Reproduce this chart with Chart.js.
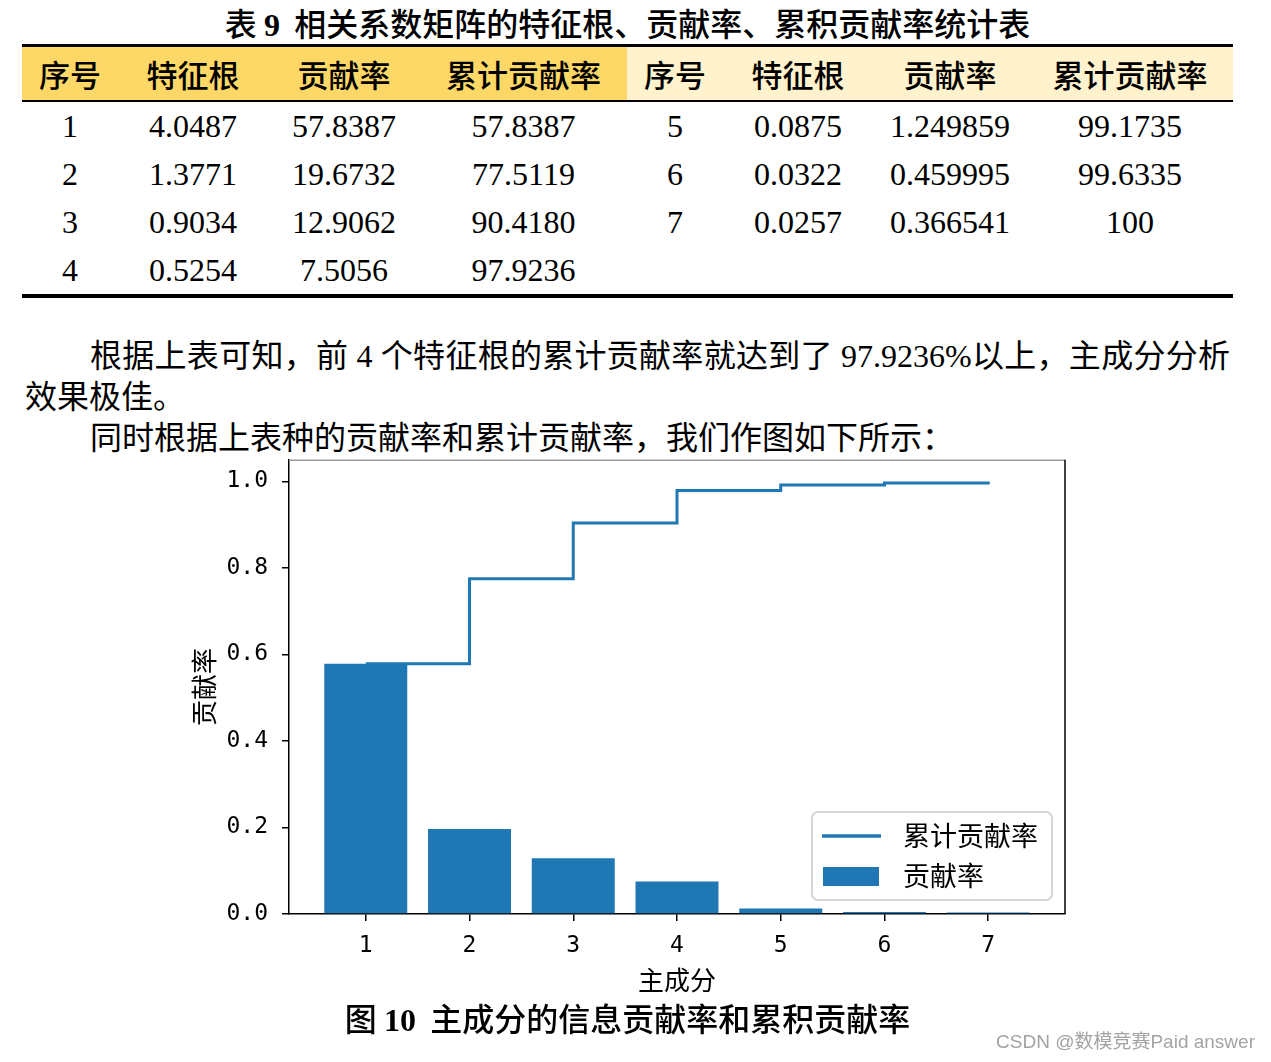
<!DOCTYPE html>
<html>
<head>
<meta charset="utf-8">
<script src="https://cdn.jsdelivr.net/npm/chart.js@4.4.0/dist/chart.umd.min.js"></script>
<style>
html,body{margin:0;padding:0;background:#fff;}
body{width:1271px;height:1062px;position:relative;overflow:hidden;color:#000;font-family:"Liberation Serif","Noto Sans CJK SC",serif;}
.abs{position:absolute;}
#title{left:22px;width:1211px;top:3px;height:38px;line-height:38px;text-align:center;font-size:32px;font-family:"Noto Sans CJK SC",sans-serif;font-weight:500;white-space:pre;}
#title b,#caption b{font-family:"Liberation Serif",serif;font-weight:bold;}
#tbl{left:22px;top:44px;width:1211px;border-top:3px solid #000;border-bottom:4px solid #000;}
.grid{display:grid;grid-template-columns:96px 150px 152px 207px 96px 150px 154px 206px;}
.hdr{height:53px;line-height:53px;border-bottom:2px solid #000;font-family:"Noto Sans CJK SC",sans-serif;font-weight:500;font-size:31px;}
.hdr div{text-align:center;}
.hl{background:#FDD866;}
.hr{background:#FFF2CC;}
.row{height:48px;line-height:48px;font-size:32px;font-family:"Liberation Serif",serif;}
.row div{text-align:center;}
.para{font-size:32px;line-height:41px;height:41px;font-family:"Liberation Serif","Noto Sans CJK SC",serif;white-space:nowrap;}
#p1{left:90px;top:336px;width:1140px;text-align:justify;text-align-last:justify;white-space:normal;}
#p2{left:25px;top:377px;}
#p3{left:90px;top:418px;}
#chartBox{left:180px;top:432px;width:900px;height:568px;}
#caption{left:22px;width:1211px;top:997px;height:40px;line-height:40px;text-align:center;font-size:32px;font-family:"Noto Sans CJK SC",sans-serif;font-weight:500;white-space:pre;}
#mark{right:16px;top:1030px;height:24px;line-height:24px;font-size:19px;color:#a3a3a3;font-family:"Liberation Sans","Noto Sans CJK SC",sans-serif;white-space:pre;}
</style>
</head>
<body>
<div id="title" class="abs">表 <b>9</b>  相关系数矩阵的特征根、贡献率、累积贡献率统计表</div>
<div id="tbl" class="abs"></div>
<div id="p1" class="abs para">根据上表可知，前 4 个特征根的累计贡献率就达到了 97.9236%以上，主成分分析</div>
<div id="p2" class="abs para">效果极佳。</div>
<div id="p3" class="abs para">同时根据上表种的贡献率和累计贡献率，我们作图如下所示：</div>
<div id="chartBox" class="abs"><canvas id="c" width="900" height="568"></canvas></div>
<div id="caption" class="abs">图 <b>10</b>  主成分的信息贡献率和累积贡献率</div>
<div id="mark" class="abs">CSDN @数模竞赛Paid answer</div>
<script>
// ---------- table data ----------
const tableHeaders = ['序号', '特征根', '贡献率', '累计贡献率'];
const tableSeq = ['1', '2', '3', '4', '5', '6', '7'];
const tableEigen = ['4.0487', '1.3771', '0.9034', '0.5254', '0.0875', '0.0322', '0.0257'];
const tableContrib = ['57.8387', '19.6732', '12.9062', '7.5056', '1.249859', '0.459995', '0.366541'];
const tableCumContrib = ['57.8387', '77.5119', '90.4180', '97.9236', '99.1735', '99.6335', '100'];

// ---------- chart data ----------
const components = [1, 2, 3, 4, 5, 6, 7];
const contribution = [0.578387, 0.196732, 0.129062, 0.075056, 0.012499, 0.004600, 0.003665];
const cumulative = [0.578387, 0.775119, 0.904180, 0.979236, 0.991735, 0.996335, 1.000000];
const xTickValues = [1, 2, 3, 4, 5, 6, 7];
const yTickValues = [0, 0.2, 0.4, 0.6, 0.8, 1.0];
const seriesLabels = ['累计贡献率', '贡献率'];
const axisTitles = {x: '主成分', y: '贡献率'};

// ---------- build table ----------
(function () {
  const tbl = document.getElementById('tbl');
  const hdr = document.createElement('div');
  hdr.className = 'grid hdr';
  for (let h = 0; h < 2; h++) {
    tableHeaders.forEach(t => {
      const d = document.createElement('div');
      d.className = h === 0 ? 'hl' : 'hr';
      d.textContent = t;
      hdr.appendChild(d);
    });
  }
  tbl.appendChild(hdr);
  const half = 4;
  for (let r = 0; r < half; r++) {
    const row = document.createElement('div');
    row.className = 'grid row';
    [r, r + half].forEach(i => {
      const vals = i < tableSeq.length
        ? [tableSeq[i], tableEigen[i], tableContrib[i], tableCumContrib[i]]
        : ['', '', '', ''];
      vals.forEach(v => {
        const d = document.createElement('div');
        d.textContent = v;
        row.appendChild(d);
      });
    });
    tbl.appendChild(row);
  }
})();

// ---------- chart ----------
const BLUE = '#1f77b4';
const CJK = 'Noto Sans CJK SC';

const framePlugin = {
  id: 'frame',
  afterDraw(chart) {
    const {ctx, chartArea: a} = chart;
    ctx.save();
    ctx.lineWidth = 1.5;
    ctx.strokeStyle = '#9a9a9a';
    ctx.beginPath();
    ctx.moveTo(a.left, a.top + 0.5);
    ctx.lineTo(a.right, a.top + 0.5);
    ctx.stroke();
    ctx.strokeStyle = '#000';
    ctx.beginPath();
    ctx.moveTo(a.right, a.top);
    ctx.lineTo(a.right, a.bottom);
    ctx.stroke();
    ctx.restore();
  }
};

const legendPlugin = {
  id: 'insideLegend',
  afterDraw(chart) {
    const {ctx, chartArea: a} = chart;
    const w = 240, h = 88;
    const x = a.right - 13 - w, y = a.bottom - 14 - h;
    ctx.save();
    ctx.beginPath();
    ctx.roundRect(x, y, w, h, 6);
    ctx.fillStyle = 'rgba(255,255,255,0.85)';
    ctx.fill();
    ctx.lineWidth = 2;
    ctx.strokeStyle = '#d6d6d6';
    ctx.stroke();
    const ds = chart.data.datasets;
    ctx.font = '27px "' + CJK + '"';
    ctx.textBaseline = 'middle';
    ctx.textAlign = 'left';
    ds.forEach((d, i) => {
      const cy = y + 24 + i * 40;
      if (d.type === 'line') {
        ctx.strokeStyle = d.borderColor;
        ctx.lineWidth = 3.5;
        ctx.beginPath();
        ctx.moveTo(x + 10, cy);
        ctx.lineTo(x + 69, cy);
        ctx.stroke();
      } else {
        ctx.fillStyle = d.backgroundColor;
        ctx.fillRect(x + 11, cy - 9, 56, 19);
      }
      ctx.fillStyle = '#000';
      ctx.fillText(d.label, x + 91, cy);
    });
    ctx.restore();
  }
};

new Chart(document.getElementById('c'), {
  type: 'bar',
  data: {
    datasets: [
      {
        type: 'line',
        label: seriesLabels[0],
        data: components.map((c, i) => ({x: c, y: cumulative[i]})),
        borderColor: BLUE,
        borderWidth: 3,
        stepped: 'before',
        pointRadius: 0,
        fill: false,
        order: 0
      },
      {
        type: 'bar',
        label: seriesLabels[1],
        data: components.map((c, i) => ({x: c, y: contribution[i]})),
        backgroundColor: BLUE,
        borderWidth: 0,
        categoryPercentage: 1,
        barPercentage: 0.8,
        order: 1
      }
    ]
  },
  options: {
    responsive: false,
    animation: false,
    devicePixelRatio: 1,
    layout: {padding: {top: 10, right: 15, left: 0, bottom: 0}},
    plugins: {legend: {display: false}, tooltip: {enabled: false}},
    scales: {
      x: {
        type: 'linear',
        min: 0.26,
        max: 7.74,
        offset: false,
        afterBuildTicks: s => { s.ticks = xTickValues.map(v => ({value: v})); },
        afterFit: s => { s.height = 86; },
        ticks: {
          autoSkip: false, maxRotation: 0, color: '#000', padding: 11,
          font: {family: 'DejaVu Sans Mono', size: 23},
          callback: v => String(v)
        },
        grid: {display: true, offset: false, drawOnChartArea: false, drawTicks: true, tickLength: 7, color: '#000', lineWidth: 1.5},
        border: {display: true, color: '#000', width: 1.5},
        title: {display: true, text: axisTitles.x, color: '#000', font: {family: CJK, size: 26}, padding: {top: 0, bottom: 4}}
      },
      y: {
        type: 'linear',
        min: 0,
        max: 1.05,
        afterBuildTicks: s => { s.ticks = yTickValues.map(v => ({value: v})); },
        afterFit: s => { s.width = 109; },
        ticks: {
          color: '#000', padding: 14,
          font: {family: 'DejaVu Sans Mono', size: 23},
          callback: v => Number(v).toFixed(1)
        },
        grid: {display: true, offset: false, drawOnChartArea: false, drawTicks: true, tickLength: 7, color: '#000', lineWidth: 1.5},
        border: {display: true, color: '#000', width: 1.5},
        title: {display: true, text: axisTitles.y, color: '#000', font: {family: CJK, size: 26}, padding: {top: 9, bottom: 0}}
      }
    }
  },
  plugins: [framePlugin, legendPlugin]
});
</script>
</body>
</html>
